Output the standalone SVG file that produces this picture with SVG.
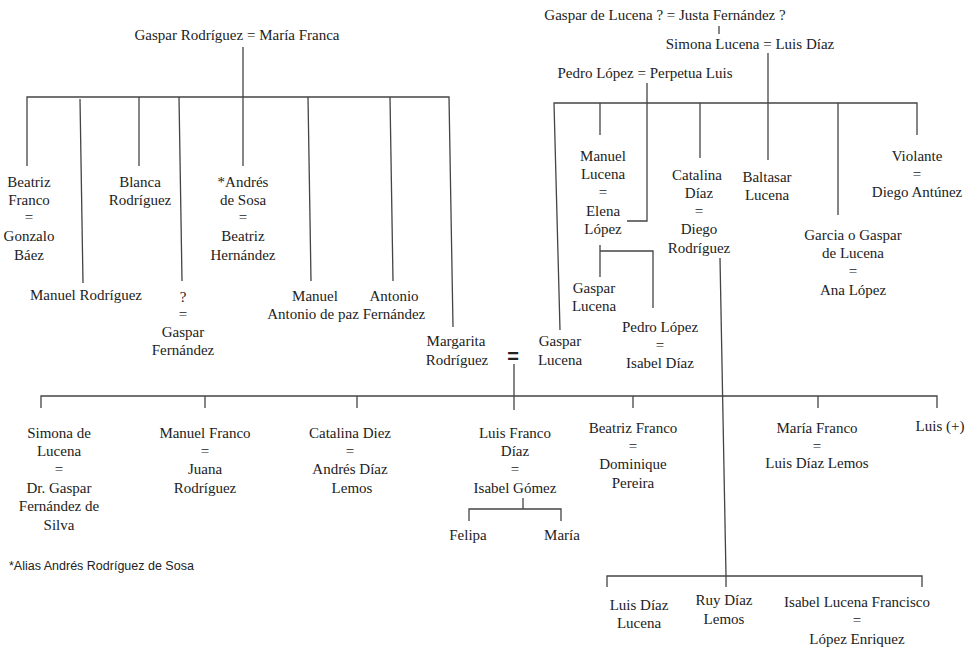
<svg xmlns="http://www.w3.org/2000/svg" width="973" height="647" viewBox="0 0 973 647">
<style>
.t{font-family:"Liberation Serif","Times New Roman",serif;font-size:15px;fill:#222;text-anchor:middle}
.c{fill:none;stroke:#444;stroke-width:1.3}
.eq{font-family:"Liberation Sans",Arial,sans-serif;font-size:20px;font-weight:bold;fill:#222;text-anchor:middle}
.note{font-family:"Liberation Sans",Arial,sans-serif;font-size:12.5px;fill:#222}
</style>
<rect width="973" height="647" fill="#fff"/>
<g id="connectors" class="c">
<path d="M243,47 V166"/>
<path d="M27,166 V97 H449 L453,327"/>
<path d="M80,99 L83,283"/>
<path d="M139,97 V166"/>
<path d="M179,97 L182,281"/>
<path d="M308,97 L311,281"/>
<path d="M390,97 L393,281"/>
<path d="M719,26 V34"/>
<path d="M768,53 V160"/>
<path d="M647,83 V221 H627"/>
<path d="M560,330 L554,103 H917 V135"/>
<path d="M600,103 V135"/>
<path d="M700,103 V158"/>
<path d="M838,103 V215"/>
<path d="M600,245 V277"/>
<path d="M600,251 H653 V308"/>
<path d="M720,258 L726,576"/>
<path d="M514,364 V410"/>
<path d="M41,408 V396 H937 V408"/>
<path d="M205,396 V408"/>
<path d="M357,396 V408"/>
<path d="M633,396 V408"/>
<path d="M818,396 V408"/>
<path d="M523,498 V509"/>
<path d="M469,521 V509 H561 V521"/>
<path d="M607,587 V576 H922 V587"/>
<path d="M726,576 V587"/>
</g>
<g id="n-gaspar-maria"><text class="t" x="237" y="40">Gaspar  Rodríguez = María Franca</text></g>
<g id="n-beatriz"><text class="t" x="29" y="187">Beatriz</text><text class="t" x="29" y="205">Franco</text><text class="t" x="29" y="222">=</text><text class="t" x="29" y="241">Gonzalo</text><text class="t" x="29" y="260">Báez</text></g>
<g id="n-blanca"><text class="t" x="140" y="187">Blanca</text><text class="t" x="140" y="205">Rodríguez</text></g>
<g id="n-andres"><text class="t" x="243" y="187">*Andrés</text><text class="t" x="243" y="205">de Sosa</text><text class="t" x="243" y="222">=</text><text class="t" x="243" y="241">Beatriz</text><text class="t" x="243" y="260">Hernández</text></g>
<g id="n-manuel-r"><text class="t" x="86" y="300">Manuel  Rodríguez</text></g>
<g id="n-q"><text class="t" x="183" y="302">?</text><text class="t" x="183" y="319">=</text><text class="t" x="183" y="337">Gaspar</text><text class="t" x="183" y="355">Fernández</text></g>
<g id="n-manuel-a"><text class="t" x="315" y="301">Manuel</text><text class="t" x="313" y="319">Antonio  de paz</text></g>
<g id="n-antonio"><text class="t" x="394" y="301">Antonio</text><text class="t" x="394" y="319">Fernández</text></g>
<g id="n-margarita"><text class="t" x="456" y="346">Margarita</text><text class="t" x="457" y="365">Rodríguez</text></g>
<g id="n-eq"><text class="eq" x="513" y="363">=</text></g>
<g id="n-gaspar-l"><text class="t" x="560" y="346">Gaspar</text><text class="t" x="560" y="365">Lucena</text></g>
<g id="n-gaspar-justa"><text class="t" x="665" y="20">Gaspar  de Lucena ? = Justa Fernández  ?</text></g>
<g id="n-simona-luis"><text class="t" x="750" y="49">Simona Lucena  = Luis Díaz</text></g>
<g id="n-pedro-perpetua"><text class="t" x="645" y="78">Pedro López = Perpetua Luis</text></g>
<g id="n-manuel-l"><text class="t" x="603" y="161">Manuel</text><text class="t" x="603" y="179">Lucena</text><text class="t" x="603" y="197">=</text><text class="t" x="603" y="216">Elena</text><text class="t" x="603" y="234">López</text></g>
<g id="n-catalina"><text class="t" x="697" y="180">Catalina</text><text class="t" x="699" y="198">Díaz</text><text class="t" x="699" y="216">=</text><text class="t" x="699" y="234">Diego</text><text class="t" x="699" y="253">Rodríguez</text></g>
<g id="n-baltasar"><text class="t" x="767" y="182">Baltasar</text><text class="t" x="767" y="200">Lucena</text></g>
<g id="n-violante"><text class="t" x="917" y="161">Violante</text><text class="t" x="917" y="179">=</text><text class="t" x="917" y="197">Diego Antúnez</text></g>
<g id="n-garcia"><text class="t" x="853" y="240">Garcia o Gaspar</text><text class="t" x="853" y="258">de Lucena</text><text class="t" x="853" y="276">=</text><text class="t" x="853" y="295">Ana  López</text></g>
<g id="n-gaspar-l2"><text class="t" x="594" y="293">Gaspar</text><text class="t" x="594" y="311">Lucena</text></g>
<g id="n-pedro-isabel"><text class="t" x="660" y="332">Pedro López</text><text class="t" x="660" y="350">=</text><text class="t" x="660" y="368">Isabel Díaz</text></g>
<g id="n-simona-d"><text class="t" x="59" y="438">Simona de</text><text class="t" x="59" y="456">Lucena</text><text class="t" x="59" y="474">=</text><text class="t" x="59" y="493">Dr. Gaspar</text><text class="t" x="59" y="511">Fernández de</text><text class="t" x="59" y="530">Silva</text></g>
<g id="n-manuel-f"><text class="t" x="205" y="438">Manuel Franco</text><text class="t" x="205" y="456">=</text><text class="t" x="205" y="474">Juana</text><text class="t" x="205" y="493">Rodríguez</text></g>
<g id="n-catalina-d"><text class="t" x="350" y="438">Catalina Diez</text><text class="t" x="350" y="456">=</text><text class="t" x="350" y="474">Andrés Díaz</text><text class="t" x="352" y="493">Lemos</text></g>
<g id="n-luis-f"><text class="t" x="515" y="438">Luis Franco</text><text class="t" x="515" y="456">Díaz</text><text class="t" x="515" y="474">=</text><text class="t" x="515" y="493">Isabel Gómez</text></g>
<g id="n-felipa"><text class="t" x="468" y="540">Felipa</text></g>
<g id="n-maria"><text class="t" x="562" y="540">María</text></g>
<g id="n-beatriz-f"><text class="t" x="633" y="433">Beatriz Franco</text><text class="t" x="633" y="451">=</text><text class="t" x="633" y="469">Dominique</text><text class="t" x="633" y="488">Pereira</text></g>
<g id="n-maria-f"><text class="t" x="817" y="433">María Franco</text><text class="t" x="817" y="451">=</text><text class="t" x="817" y="468">Luis Díaz Lemos</text></g>
<g id="n-luis-plus"><text class="t" x="940" y="431">Luis (+)</text></g>
<g id="n-luis-dl"><text class="t" x="639" y="610">Luis Díaz</text><text class="t" x="639" y="628">Lucena</text></g>
<g id="n-ruy"><text class="t" x="724" y="605">Ruy Díaz</text><text class="t" x="724" y="624">Lemos</text></g>
<g id="n-isabel-l"><text class="t" x="857" y="607">Isabel  Lucena Francisco</text><text class="t" x="857" y="625">=</text><text class="t" x="857" y="644">López  Enriquez</text></g>
<g id="n-note"><text class="note" x="9" y="570">*Alias Andrés Rodríguez de Sosa</text></g>
</svg>
